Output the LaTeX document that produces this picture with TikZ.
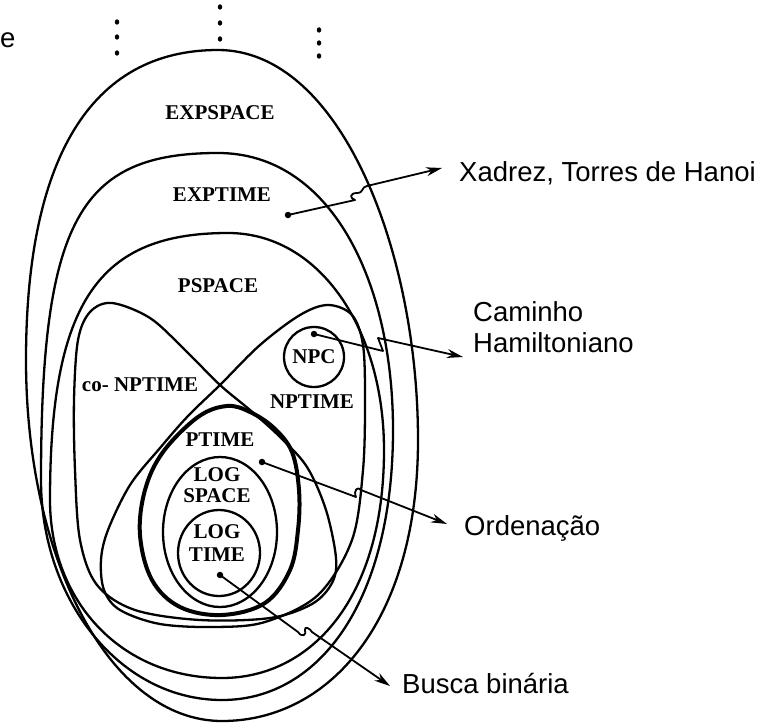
\documentclass[tikz,border=0pt]{standalone}
\usepackage{fontspec}
\setmainfont{Liberation Serif}
\setsansfont{Liberation Sans}
\usetikzlibrary{arrows.meta,shapes.geometric}
\begin{document}
\begin{tikzpicture}[x=1pt,y=-1pt,
  curve/.style={line width=2.3pt, line join=round},
  heavycurve/.style={line width=4pt},
  cls/.style={font=\bfseries\fontsize{21}{21}\selectfont, inner sep=0pt, align=center},
  lbl/.style={font=\sffamily\fontsize{27.5}{31}\selectfont, anchor=base west, inner sep=0pt, align=left},
  pointer/.style={line width=1.8pt, line join=round, -{Stealth[length=16pt,width=9pt]}},
  dotmark/.style={circle, fill, inner sep=0pt, minimum size=6.5pt},
  vdot/.style={ellipse, fill, inner sep=0pt, minimum width=4.5pt, minimum height=5.5pt},
]
\useasboundingbox (0,0) rectangle (762,725);

% partial letter at left edge
\node[font=\sffamily\fontsize{27.5}{31}\selectfont, anchor=base west, inner sep=0pt] (cut) at (0,48) {e};

% vertical ellipsis dots
\foreach \x/\ya/\yb/\yc [count=\i] in {117/22/37/53, 220/7/23/39, 319/30/43/56}{
  \node[vdot] (va\i) at (\x,\ya) {};
  \node[vdot] (vb\i) at (\x,\yb) {};
  \node[vdot] (vc\i) at (\x,\yc) {};
}

% EXPSPACE boundary
\draw[curve] (218,50) .. controls (340,50) and (418,250) .. (418,440)
  .. controls (418,620) and (330,721) .. (222,721)
  .. controls (110,721) and (26,560) .. (26,360)
  .. controls (26,160) and (90,50) .. (218,50) -- cycle;
% EXPTIME boundary
\draw[curve] (218,153) .. controls (330,153) and (393,280) .. (393,430)
  .. controls (393,600) and (320,700) .. (222,700)
  .. controls (120,700) and (41,600) .. (41,480)
  .. controls (41,220) and (80,153) .. (218,153) -- cycle;
% PSPACE boundary
\draw[curve] (228,233) .. controls (320,233) and (384,330) .. (384,450)
  .. controls (384,600) and (310,678) .. (222,678)
  .. controls (120,678) and (50,600) .. (50,500)
  .. controls (50,300) and (100,233) .. (228,233) -- cycle;

% NPTIME
\draw[curve] plot[smooth cycle, tension=0.55] coordinates {
  (328,305) (352,315) (363,345) (365,400) (363,470) (352,540) (318,595)
  (265,622) (215,627) (160,624) (120,610) (104,590) (101,560) (108,530)
  (130,485) (160,448) (188,416) (220,385) (260,345) (300,315)};
% co-NPTIME
\draw[curve] plot[smooth cycle, tension=0.55] coordinates {
  (112,303) (90,312) (78,340) (74,400) (75,470) (80,540) (97,585)
  (135,610) (200,620) (270,618) (312,604) (332,583) (336,558) (326,510)
  (307,467) (280,437) (250,410) (220,385) (185,350) (150,318)};

% PTIME
\draw[heavycurve] plot[smooth cycle, tension=0.6] coordinates {
  (227,406) (250,412) (274,428) (292,452) (299,490) (298,530) (290,570)
  (265,603) (222,615) (180,607) (152,580) (140,535) (145,490) (163,452)
  (198,417)};
% LOGSPACE
\draw[curve] (220,532) ellipse [x radius=57, y radius=75];
% LOGTIME
\draw[curve] (219,553) ellipse [x radius=41, y radius=43];
% NPC
\draw[curve] (314,357) circle [radius=30];

% class labels
\node[cls] (expspace) at (220,113) {EXPSPACE};
\node[cls] (exptime) at (222,195) {EXPTIME};
\node[cls] (pspace) at (218,286) {PSPACE};
\node[cls] (conp) at (140,385) {co- NPTIME};
\node[cls] (npc) at (314,357) {NPC};
\node[cls] (np) at (312,402) {NPTIME};
\node[cls] (ptime) at (220,440) {PTIME};
\node[cls, font=\bfseries\fontsize{21}{20.5}\selectfont] (logspace) at (217,485) {LOG\\SPACE};
\node[cls, font=\bfseries\fontsize{21}{23}\selectfont] (logtime) at (217,543) {LOG\\TIME};

% example labels
\node[lbl] (xadrez) at (459,181) {Xadrez, Torres de Hanoi};
\node[lbl] (caminho) at (473,352) {Caminho\\Hamiltoniano};
\node[lbl] (ordenacao) at (464,535) {Ordenação};
\node[lbl] (busca) at (402,693) {Busca binária};

% pointer start dots and tips
\node[dotmark] (d1) at (288,215) {};
\node[dotmark] (d2) at (314,334) {};
\node[dotmark] (d3) at (262,462) {};
\node[dotmark] (d4) at (220,575) {};
\coordinate (t1) at (442,168);
\coordinate (t2) at (463,357);
\coordinate (t3) at (447,524);
\coordinate (t4) at (390,686);

\draw[pointer] (d1.center) -- (355,200) .. controls (349,198) and (350,193) .. (357,193)
  .. controls (364,193) and (361,187) .. (367,186) -- (t1);
\draw[pointer] (d2.center) -- (383,351) -- (378,338) -- (t2);
\draw[pointer] (d3.center) -- (356,497) .. controls (353,490) and (358,486) .. (361,490) -- (t3);
\draw[pointer] (d4.center) -- (298,632) .. controls (302,638) and (307,635) .. (305,630)
  .. controls (304,626) and (310,628) .. (312,632) -- (t4);
\end{tikzpicture}
\end{document}
